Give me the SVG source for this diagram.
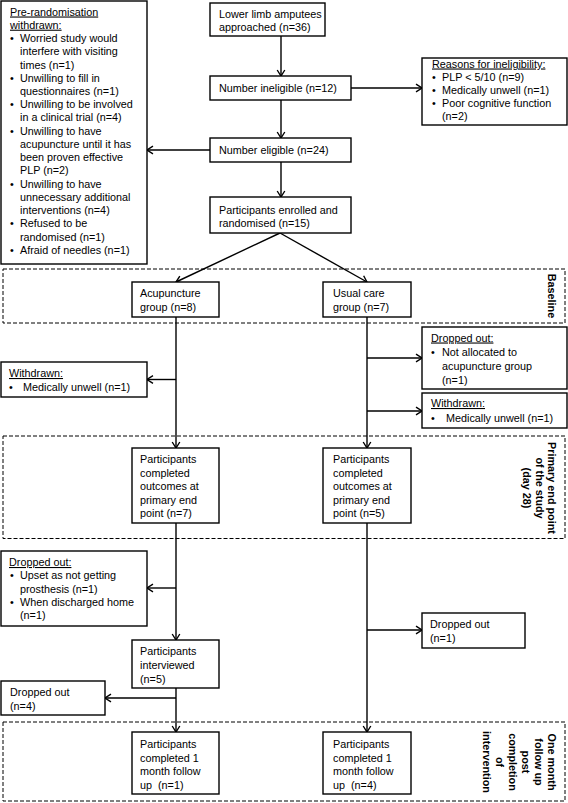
<svg xmlns="http://www.w3.org/2000/svg" width="568" height="803" viewBox="0 0 568 803">
<style>
.bx{fill:#fff;stroke:#000;stroke-width:1.4}
.dz{fill:none;stroke:#000;stroke-width:1;stroke-dasharray:4 2}
.cn{fill:none;stroke:#000;stroke-width:1.4;marker-end:url(#ah)}
.ln{fill:none;stroke:#000;stroke-width:1.4}
text{font-family:"Liberation Sans",Arial,Helvetica,sans-serif;font-size:10.8px;fill:#000}
.u{text-decoration:underline}
.lb{font-weight:bold;text-anchor:middle}
</style>
<defs>
<marker id="ah" viewBox="0 0 10 10" refX="9" refY="5" markerWidth="10" markerHeight="10" markerUnits="userSpaceOnUse" orient="auto">
<path d="M3,1.2 L9,5 L3,8.8" fill="none" stroke="#000" stroke-width="1.4"/>
</marker>
</defs>
<rect fill="#fff" width="568" height="803"/>

<g id="zones">
<rect class="dz" x="3" y="269" width="562" height="54"/>
<rect class="dz" x="3" y="436" width="562" height="102.5"/>
<rect class="dz" x="3" y="722" width="562" height="79"/>
<text class="lb" transform="translate(548,296) rotate(90)">Baseline</text>
<text class="lb" transform="translate(548,488) rotate(90)">Primary end point</text>
<text class="lb" transform="translate(535.5,488) rotate(90)">of  the study</text>
<text class="lb" transform="translate(523,488) rotate(90)">(day 28)</text>
<text class="lb" transform="translate(548,762) rotate(90)">One month</text>
<text class="lb" transform="translate(535,762) rotate(90)">follow up</text>
<text class="lb" transform="translate(522,762) rotate(90)">post</text>
<text class="lb" transform="translate(509,762) rotate(90)">completion</text>
<text class="lb" transform="translate(496,762) rotate(90)">of</text>
<text class="lb" transform="translate(483,762) rotate(90)">intervention</text>
</g>

<g id="connectors">
<path class="cn" d="M281,36 V76"/>
<path class="cn" d="M281,100 V138"/>
<path class="cn" d="M351,88 H422"/>
<path class="cn" d="M210,150 H147"/>
<path class="cn" d="M281,162 V197"/>
<path class="cn" d="M280,233 L176,282"/>
<path class="cn" d="M280,233 L367,282"/>
<path class="cn" d="M176,317 V448"/>
<path class="cn" d="M367,317 V448"/>
<path class="cn" d="M176,379.5 H147"/>
<path class="cn" d="M367,358 H422"/>
<path class="cn" d="M367,411 H422"/>
<path class="cn" d="M176,523 V640"/>
<path class="cn" d="M176,588 H147"/>
<path class="cn" d="M367,523 V732"/>
<path class="cn" d="M367,630 H422"/>
<path class="cn" d="M176,688 V732"/>
<path class="cn" d="M176,698 H105"/>
</g>

<g id="prerandomisation">
<rect class="bx" x="1" y="1" width="146" height="263"/>
<text x="10" y="15.5" class="u">Pre-randomisation</text>
<text x="10" y="28.7" class="u">withdrawn:</text>
<text x="10" y="42">•</text><text x="20" y="42">Worried study would</text>
<text x="20" y="55.2">interfere with visiting</text>
<text x="20" y="68.5">times (n=1)</text>
<text x="10" y="81.7">•</text><text x="20" y="81.7">Unwilling to fill in</text>
<text x="20" y="95">questionnaires (n=1)</text>
<text x="10" y="108.2">•</text><text x="20" y="108.2">Unwilling to be involved</text>
<text x="20" y="121.4">in a clinical trial (n=4)</text>
<text x="10" y="134.7">•</text><text x="20" y="134.7">Unwilling to have</text>
<text x="20" y="147.9">acupuncture until it has</text>
<text x="20" y="161.1">been proven effective</text>
<text x="20" y="174.4">PLP (n=2)</text>
<text x="10" y="187.6">•</text><text x="20" y="187.6">Unwilling to have</text>
<text x="20" y="200.9">unnecessary additional</text>
<text x="20" y="214.1">interventions (n=4)</text>
<text x="10" y="227.3">•</text><text x="20" y="227.3">Refused to be</text>
<text x="20" y="240.6">randomised (n=1)</text>
<text x="10" y="253.8">•</text><text x="20" y="253.8">Afraid of needles (n=1)</text>
</g>

<g id="approached">
<rect class="bx" x="210" y="3" width="115" height="33"/>
<text x="219" y="17.8">Lower limb amputees</text>
<text x="219" y="30.8">approached (n=36)</text>
</g>

<g id="ineligible">
<rect class="bx" x="210" y="76" width="141" height="24"/>
<text x="219" y="92">Number ineligible (n=12)</text>
</g>

<g id="reasons">
<rect class="bx" x="422" y="58" width="145" height="67"/>
<text x="432" y="67.5" class="u">Reasons for ineligibility:</text>
<text x="432" y="80.5">•</text><text x="442" y="80.5">PLP &lt; 5/10 (n=9)</text>
<text x="432" y="93.5">•</text><text x="442" y="93.5">Medically unwell (n=1)</text>
<text x="432" y="106.5">•</text><text x="442" y="106.5">Poor cognitive function</text>
<text x="442" y="119.5">(n=2)</text>
</g>

<g id="eligible">
<rect class="bx" x="210" y="138" width="141" height="24"/>
<text x="219" y="154">Number eligible (n=24)</text>
</g>

<g id="enrolled">
<rect class="bx" x="210" y="197" width="141" height="36"/>
<text x="219" y="213.5">Participants enrolled and</text>
<text x="219" y="227">randomised (n=15)</text>
</g>

<g id="acupuncture">
<rect class="bx" x="132" y="282" width="87" height="35"/>
<text x="140" y="297">Acupuncture</text>
<text x="140" y="311">group (n=8)</text>
</g>

<g id="usualcare">
<rect class="bx" x="323" y="282" width="88" height="35"/>
<text x="333" y="297">Usual care</text>
<text x="333" y="311">group (n=7)</text>
</g>

<g id="dropped-notallocated">
<rect class="bx" x="422" y="327" width="145" height="62"/>
<text x="431" y="341.5" class="u">Dropped out:</text>
<text x="431" y="355.5">•</text><text x="442" y="355.5">Not allocated to</text>
<text x="442" y="369.5">acupuncture group</text>
<text x="442" y="383.5">(n=1)</text>
</g>

<g id="withdrawn-usual">
<rect class="bx" x="422" y="393" width="145" height="35"/>
<text x="431" y="407" class="u">Withdrawn:</text>
<text x="431" y="421.5">•</text><text x="446" y="421.5">Medically unwell (n=1)</text>
</g>

<g id="withdrawn-acu">
<rect class="bx" x="1" y="362" width="146" height="35"/>
<text x="9" y="377" class="u">Withdrawn:</text>
<text x="9" y="391">•</text><text x="23" y="391">Medically unwell (n=1)</text>
</g>

<g id="primary-acu">
<rect class="bx" x="132" y="448" width="87" height="75"/>
<text x="140" y="463">Participants</text>
<text x="140" y="476.5">completed</text>
<text x="140" y="490">outcomes at</text>
<text x="140" y="503.5">primary end</text>
<text x="140" y="517">point (n=7)</text>
</g>

<g id="primary-usual">
<rect class="bx" x="323" y="448" width="88" height="75"/>
<text x="333" y="463">Participants</text>
<text x="333" y="476.5">completed</text>
<text x="333" y="490">outcomes at</text>
<text x="333" y="503.5">primary end</text>
<text x="333" y="517">point (n=5)</text>
</g>

<g id="dropped-acu">
<rect class="bx" x="1" y="551" width="146" height="75"/>
<text x="9" y="566" class="u">Dropped out:</text>
<text x="10" y="579.3">•</text><text x="20" y="579.3">Upset as not getting</text>
<text x="20" y="592.6">prosthesis (n=1)</text>
<text x="10" y="606">•</text><text x="20" y="606">When discharged home</text>
<text x="20" y="619.3">(n=1)</text>
</g>

<g id="dropped-usual">
<rect class="bx" x="422" y="613" width="103" height="35"/>
<text x="430" y="628">Dropped out</text>
<text x="430" y="642">(n=1)</text>
</g>

<g id="interviewed">
<rect class="bx" x="132" y="640" width="87" height="48"/>
<text x="140" y="655">Participants</text>
<text x="140" y="669">interviewed</text>
<text x="140" y="683">(n=5)</text>
</g>

<g id="dropped-interview">
<rect class="bx" x="1" y="681" width="104" height="34"/>
<text x="10" y="696">Dropped out</text>
<text x="10" y="709.5">(n=4)</text>
</g>

<g id="followup-acu">
<rect class="bx" x="132" y="732" width="87" height="62"/>
<text x="140" y="748">Participants</text>
<text x="140" y="761.5">completed 1</text>
<text x="140" y="775">month follow</text>
<text x="140" y="788.5">up&#160; (n=1)</text>
</g>

<g id="followup-usual">
<rect class="bx" x="323" y="732" width="88" height="62"/>
<text x="333" y="748">Participants</text>
<text x="333" y="761.5">completed 1</text>
<text x="333" y="775">month follow</text>
<text x="333" y="788.5">up&#160; (n=4)</text>
</g>
</svg>
